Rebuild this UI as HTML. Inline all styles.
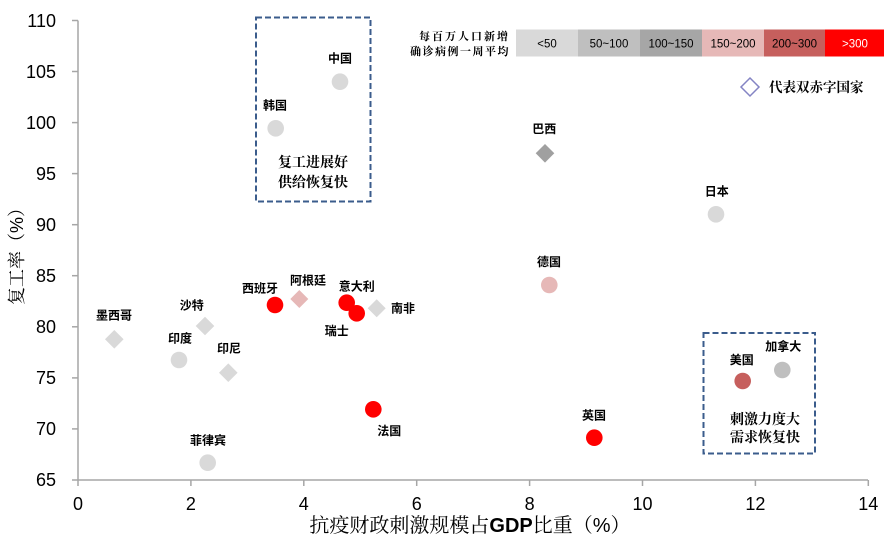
<!DOCTYPE html>
<html><head><meta charset="utf-8"><style>
html,body{margin:0;padding:0;background:#fff;}
svg{display:block;}
.lb{font-family:"Liberation Sans","Noto Sans CJK SC",sans-serif;font-size:12px;font-weight:bold;fill:#000;text-anchor:middle;}
.tk{font-family:"Liberation Sans",sans-serif;font-size:18px;fill:#000;}
.bx{font-family:"Liberation Sans","Noto Serif CJK SC",serif;font-size:14px;font-weight:bold;fill:#000;text-anchor:middle;}
.lg{font-family:"Liberation Sans",sans-serif;font-size:11.5px;fill:#000;text-anchor:middle;}
</style></head><body>
<svg width="890" height="547" viewBox="0 0 890 547" xmlns="http://www.w3.org/2000/svg">
<!-- axes -->
<g stroke="#A6A6A6" stroke-width="1.5" fill="none">
<line x1="78" y1="20.5" x2="78" y2="480"/>
<line x1="78" y1="480" x2="868" y2="480"/>
<line x1="72" y1="20.5" x2="78" y2="20.5"/>
<line x1="72" y1="71.5" x2="78" y2="71.5"/>
<line x1="72" y1="122.6" x2="78" y2="122.6"/>
<line x1="72" y1="173.6" x2="78" y2="173.6"/>
<line x1="72" y1="224.7" x2="78" y2="224.7"/>
<line x1="72" y1="275.7" x2="78" y2="275.7"/>
<line x1="72" y1="326.8" x2="78" y2="326.8"/>
<line x1="72" y1="377.9" x2="78" y2="377.9"/>
<line x1="72" y1="428.9" x2="78" y2="428.9"/>
<line x1="72" y1="480" x2="78" y2="480"/>
<line x1="78" y1="480" x2="78" y2="486"/>
<line x1="190.9" y1="480" x2="190.9" y2="486"/>
<line x1="303.8" y1="480" x2="303.8" y2="486"/>
<line x1="416.7" y1="480" x2="416.7" y2="486"/>
<line x1="529.6" y1="480" x2="529.6" y2="486"/>
<line x1="642.5" y1="480" x2="642.5" y2="486"/>
<line x1="755.4" y1="480" x2="755.4" y2="486"/>
<line x1="868.3" y1="480" x2="868.3" y2="486"/>
</g>
<!-- y tick labels -->
<g class="tk" text-anchor="end">
<text x="56" y="27">110</text>
<text x="56" y="78">105</text>
<text x="56" y="129">100</text>
<text x="56" y="180">95</text>
<text x="56" y="231">90</text>
<text x="56" y="282">85</text>
<text x="56" y="333">80</text>
<text x="56" y="384">75</text>
<text x="56" y="435">70</text>
<text x="56" y="486">65</text>
</g>
<g class="tk" text-anchor="middle">
<text x="78" y="510">0</text>
<text x="190.9" y="510">2</text>
<text x="303.8" y="510">4</text>
<text x="416.7" y="510">6</text>
<text x="529.6" y="510">8</text>
<text x="642.5" y="510">10</text>
<text x="755.4" y="510">12</text>
<text x="868.3" y="510">14</text>
</g>
<!-- axis titles -->
<text x="470" y="532" text-anchor="middle" style="font-family:'Liberation Sans','Noto Serif CJK SC',serif;font-size:20px;fill:#000;">抗疫财政刺激规模占<tspan style="font-family:'Liberation Sans',sans-serif;font-weight:bold;">GDP</tspan>比重（%）</text>
<text transform="translate(23,252) rotate(-90)" text-anchor="middle" style="font-family:'Liberation Sans','Noto Serif CJK SC',serif;font-size:18px;fill:#000;">复工率（%）</text>

<!-- dashed boxes -->
<g stroke="#3B5C8C" stroke-width="2" fill="none" stroke-dasharray="6,3">
<rect x="256" y="17.5" width="114.5" height="184"/>
<rect x="703.5" y="333" width="111.5" height="120.5"/>
</g>
<text class="bx" x="313" y="167">复工进展好</text>
<text class="bx" x="313" y="187">供给恢复快</text>
<text class="bx" x="765" y="424">刺激力度大</text>
<text class="bx" x="765" y="442">需求恢复快</text>

<!-- legend -->
<g style="font-family:'Liberation Sans','Noto Serif CJK SC',serif;font-size:11px;font-weight:bold;fill:#000;" text-anchor="end">
<text x="510" y="40" letter-spacing="2">每百万人口新增</text>
<text x="510" y="55" letter-spacing="1.5">确诊病例一周平均</text>
</g>
<rect x="516" y="29.5" width="62" height="27" fill="#D9D9D9"/>
<rect x="578" y="29.5" width="62" height="27" fill="#BFBFBF"/>
<rect x="640" y="29.5" width="62" height="27" fill="#A6A6A6"/>
<rect x="702" y="29.5" width="62" height="27" fill="#E6B8B7"/>
<rect x="764" y="29.5" width="61" height="27" fill="#C65F5D"/>
<rect x="825" y="29.5" width="59" height="27" fill="#FF0000"/>
<text class="lg" x="547" y="47.5">&lt;50</text>
<text class="lg" x="609" y="47.5">50~100</text>
<text class="lg" x="671" y="47.5">100~150</text>
<text class="lg" x="733" y="47.5">150~200</text>
<text class="lg" x="794.5" y="47.5">200~300</text>
<text class="lg" x="855" y="47.5" style="fill:#fff;">&gt;300</text>
<polygon points="750,78 759,87 750,96 741,87" fill="none" stroke="#8484C4" stroke-width="1.5"/>
<text x="769" y="92" style="font-family:'Liberation Sans','Noto Serif CJK SC',serif;font-size:13.5px;font-weight:bold;fill:#000;">代表双赤字国家</text>

<!-- points -->
<circle cx="340" cy="81.7" r="8.3" fill="#D9D9D9"/>
<circle cx="275.7" cy="128.3" r="8.3" fill="#D9D9D9"/>
<circle cx="716" cy="214.3" r="8.3" fill="#D9D9D9"/>
<circle cx="549.3" cy="285" r="8.3" fill="#E6B8B7"/>
<circle cx="179" cy="360" r="8.3" fill="#D9D9D9"/>
<circle cx="207.7" cy="462.7" r="8.3" fill="#D9D9D9"/>
<circle cx="275" cy="305" r="8.3" fill="#FF0000"/>
<circle cx="346.7" cy="302.7" r="8.3" fill="#FF0000"/>
<circle cx="356.7" cy="313.3" r="8.3" fill="#FF0000"/>
<circle cx="373.3" cy="409.3" r="8.3" fill="#FF0000"/>
<circle cx="594.3" cy="437.7" r="8.3" fill="#FF0000"/>
<circle cx="742.7" cy="381" r="8.3" fill="#C65F5D"/>
<circle cx="782.3" cy="370" r="8.3" fill="#BFBFBF"/>
<polygon points="545,144 554.3,153.3 545,162.6 535.7,153.3" fill="#A0A0A0"/>
<polygon points="114.3,330 123.6,339.3 114.3,348.6 105,339.3" fill="#D9D9D9"/>
<polygon points="205,316.7 214.3,326 205,335.3 195.7,326" fill="#D9D9D9"/>
<polygon points="228.3,363.4 237.6,372.7 228.3,382 219,372.7" fill="#D9D9D9"/>
<polygon points="299.3,290 308.3,299 299.3,308 290.3,299" fill="#E6B8B7"/>
<polygon points="376.7,299.3 385.7,308.3 376.7,317.3 367.7,308.3" fill="#D9D9D9"/>

<!-- labels -->
<text class="lb" x="340" y="62.5">中国</text>
<text class="lb" x="275" y="109.5">韩国</text>
<text class="lb" x="544.3" y="132.8">巴西</text>
<text class="lb" x="716.7" y="195.5">日本</text>
<text class="lb" x="549" y="266.2">德国</text>
<text class="lb" x="114" y="319.5">墨西哥</text>
<text class="lb" x="191.7" y="309.5">沙特</text>
<text class="lb" x="180" y="342.5">印度</text>
<text class="lb" x="229" y="352.5">印尼</text>
<text class="lb" x="260" y="292.5">西班牙</text>
<text class="lb" x="308" y="284.5">阿根廷</text>
<text class="lb" x="356.7" y="290.5">意大利</text>
<text class="lb" x="336.7" y="335.2">瑞士</text>
<text class="lb" x="403" y="312.5">南非</text>
<text class="lb" x="208" y="444.5">菲律宾</text>
<text class="lb" x="389.3" y="435.2">法国</text>
<text class="lb" x="594" y="419.5">英国</text>
<text class="lb" x="741.7" y="363.8">美国</text>
<text class="lb" x="783.3" y="350.5">加拿大</text>
</svg>
</body></html>
